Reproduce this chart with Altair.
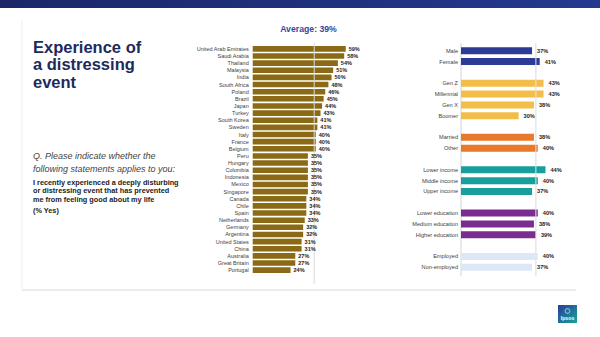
import altair as alt
import pandas as pd

# ---------------- data ----------------
countries = ["United Arab Emirates", "Saudi Arabia", "Thailand", "Malaysia", "India",
             "South Africa", "Poland", "Brazil", "Japan", "Turkey", "South Korea", "Sweden",
             "Italy", "France", "Belgium", "Peru", "Hungary", "Colombia", "Indonesia",
             "Mexico", "Singapore", "Canada", "Chile", "Spain", "Netherlands", "Germany",
             "Argentina", "United States", "China", "Australia", "Great Britain", "Portugal"]
country_values = [59, 58, 54, 51, 50, 48, 46, 45, 44, 43, 41, 41, 40, 40, 40, 35, 35, 35,
                  35, 35, 35, 34, 34, 34, 33, 32, 32, 31, 31, 27, 27, 24]

right_labels = ["Male", "Female", "Gen Z", "Millennial", "Gen X", "Boomer", "Married", "Other",
                "Lower income", "Middle income", "Upper income", "Lower education",
                "Medium education", "Higher education", "Employed", "Non-employed"]
right_values = [37, 41, 43, 43, 38, 30, 38, 40, 44, 40, 37, 40, 38, 39, 40, 37]
right_groups = [0, 0, 1, 1, 1, 1, 2, 2, 3, 3, 3, 4, 4, 4, 5, 5]
group_names = ["Gender", "Generation", "Marital", "Income", "Education", "Employment"]
group_colors = ["#2c3b93", "#f3bd4a", "#e8792a", "#17a09b", "#7b2d8f", "#dce8f8"]

AVERAGE = 39
average_text = "Average: 39%"

title_lines = ["Experience of", "a distressing", "event"]
question_lines = ["Q. Please indicate whether the", "following statements applies to you:"]
statement_lines = ["I recently experienced a deeply disturbing",
                   "or distressing event that has prevented",
                   "me from feeling good about my life"]
yes_text = "(% Yes)"

FONT = "Liberation Sans"

# ---------------- tables ----------------
cdf = pd.DataFrame({
    "country": countries,
    "value": country_values,
    "idx": list(range(len(countries))),
})
cdf["label"] = cdf["value"].astype(str) + "%"

rdf = pd.DataFrame({
    "label": right_labels,
    "value": right_values,
    "group": [group_names[g] for g in right_groups],
    "row": [i + g for i, g in enumerate(right_groups)],
})
rdf["text"] = rdf["value"].astype(str) + "%"
n_rows = int(rdf["row"].max()) + 1

one = alt.Data(values=[{"k": 1}])

# ---------------- scales ----------------
cx = alt.Scale(domain=[0, 100], range=[252.7, 410.4], nice=False, zero=True)
n = len(countries)
step_c = (275 - 44) / (n - 1)
cy = alt.Scale(domain=[-0.5, n - 0.5], range=[44 - step_c / 2, 275 + step_c / 2],
               nice=False, zero=False)
rx = alt.Scale(domain=[0, 100], range=[461, 653], nice=False, zero=True)
step_r = (272 - 46) / (n_rows - 1)
ry = alt.Scale(domain=[-0.5, n_rows - 0.5], range=[46 - step_r / 2, 272 + step_r / 2],
               nice=False, zero=False)

# ---------------- country chart ----------------
cbase = alt.Chart(cdf)
c_bars = cbase.mark_bar(orient="horizontal", size=5.6, color="#8b6a16").encode(
    x=alt.X("value:Q", scale=cx, axis=None),
    y=alt.Y("idx:Q", scale=cy, axis=None),
)
c_avg = alt.Chart(pd.DataFrame({"value": [AVERAGE], "idx": [-0.8], "idx2": [32.9]})).mark_rule(
    color="#d9d9d9", strokeWidth=1).encode(
    x=alt.X("value:Q", scale=cx, axis=None),
    y=alt.Y("idx:Q", scale=cy, axis=None), y2="idx2:Q")
c_names = cbase.mark_text(align="right", baseline="middle", dx=-4, font=FONT,
                          fontSize=5.5, color="#404040").encode(
    x=alt.X("zero:Q", scale=cx, axis=None), y=alt.Y("idx:Q", scale=cy, axis=None),
    text="country:N").transform_calculate(zero="0")
c_vals = cbase.mark_text(align="left", baseline="middle", dx=3, font=FONT,
                         fontSize=5.5, fontWeight="bold", color="#222222").encode(
    x=alt.X("value:Q", scale=cx, axis=None), y=alt.Y("idx:Q", scale=cy, axis=None),
    text="label:N")
country_chart = alt.layer(c_bars, c_avg, c_names, c_vals)

# ---------------- right chart ----------------
rbase = alt.Chart(rdf)
r_lines = alt.Chart(pd.DataFrame({"value": [0, AVERAGE], "row": [-0.7, -0.7],
                                  "row2": [20.8, 20.8],
                                  "shade": ["#d4d4d4", "#e4e4e4"]})).mark_rule(
    strokeWidth=1).encode(
    x=alt.X("value:Q", scale=rx, axis=None),
    y=alt.Y("row:Q", scale=ry, axis=None), y2="row2:Q",
    color=alt.Color("shade:N", scale=None))
r_bars = rbase.mark_bar(orient="horizontal", size=7).encode(
    x=alt.X("value:Q", scale=rx, axis=None),
    y=alt.Y("row:Q", scale=ry, axis=None),
    color=alt.Color("group:N", scale=alt.Scale(domain=group_names, range=group_colors),
                    legend=None),
)
r_avg = alt.Chart(pd.DataFrame({"value": [AVERAGE], "row": [-0.7], "row2": [20.8]})).mark_rule(
    color="#e6e6e6", strokeWidth=1).encode(
    x=alt.X("value:Q", scale=rx, axis=None),
    y=alt.Y("row:Q", scale=ry, axis=None), y2="row2:Q")
r_names = rbase.mark_text(align="right", baseline="middle", dx=-3, font=FONT,
                          fontSize=5.6, color="#404040").encode(
    x=alt.X("zero:Q", scale=rx, axis=None), y=alt.Y("row:Q", scale=ry, axis=None),
    text="label:N").transform_calculate(zero="0")
r_vals = rbase.mark_text(align="left", baseline="middle", dx=5, font=FONT,
                         fontSize=5.6, fontWeight="bold", color="#222222").encode(
    x=alt.X("value:Q", scale=rx, axis=None), y=alt.Y("row:Q", scale=ry, axis=None),
    text="text:N")
right_chart = alt.layer(r_lines, r_bars, r_avg, r_names, r_vals)

data_layers = alt.layer(country_chart, right_chart).resolve_scale(
    x="independent", y="independent", color="independent")

# ---------------- decorations & text ----------------
band_fill = alt.LinearGradient(
    gradient="linear", x1=0, x2=1, y1=0, y2=0,
    stops=[alt.GradientStop(color="#1b2767", offset=0),
           alt.GradientStop(color="#24398f", offset=1)])
top_band = alt.Chart(one).mark_rect(fill=band_fill).encode(
    x=alt.value(0), x2=alt.value(600), y=alt.value(0), y2=alt.value(8))
left_rule = alt.Chart(one).mark_rule(color="#f0f0f0", strokeWidth=1).encode(
    x=alt.value(22), y=alt.value(20), y2=alt.value(290))
bottom_rule = alt.Chart(one).mark_rule(color="#ececec", strokeWidth=2).encode(
    x=alt.value(22), x2=alt.value(576), y=alt.value(290))

title = alt.Chart(one).mark_text(
    text=title_lines, align="left", baseline="alphabetic", font=FONT, fontSize=16.5,
    fontWeight="bold", color="#1d2a5c", lineHeight=17.4).encode(
    x=alt.value(33), y=alt.value(53))
question = alt.Chart(one).mark_text(
    text=question_lines, align="left", baseline="alphabetic", font=FONT, fontSize=9,
    fontStyle="italic", color="#444444", lineHeight=12.6).encode(
    x=alt.value(33), y=alt.value(159.3))
statement = alt.Chart(one).mark_text(
    text=statement_lines, align="left", baseline="alphabetic", font=FONT, fontSize=7.3,
    fontWeight="bold", color="#222222", lineHeight=8.4).encode(
    x=alt.value(33), y=alt.value(184.8))
yes = alt.Chart(one).mark_text(
    text=yes_text, align="left", baseline="alphabetic", font=FONT, fontSize=7.3,
    fontWeight="bold", color="#222222").encode(x=alt.value(33), y=alt.value(213.2))
avg_title = alt.Chart(one).mark_text(
    text=average_text, align="center", baseline="alphabetic", font=FONT, fontSize=8.7,
    fontWeight="bold", color="#34479c").encode(x=alt.value(308.5), y=alt.value(32))

logo_fill = alt.LinearGradient(
    gradient="linear", x1=0, x2=1, y1=0, y2=1,
    stops=[alt.GradientStop(color="#2b3c98", offset=0),
           alt.GradientStop(color="#18a39a", offset=1)])
logo = alt.Chart(one).mark_rect(fill=logo_fill).encode(
    x=alt.value(558), x2=alt.value(577), y=alt.value(305), y2=alt.value(323))
logo_head = alt.Chart(one).mark_point(shape="circle", size=22, filled=False,
                                      color="#9fd4e8", strokeWidth=1.2).encode(
    x=alt.value(567.5), y=alt.value(311))
logo_text = alt.Chart(one).mark_text(
    text="Ipsos", align="center", baseline="alphabetic", font=FONT, fontSize=5.2,
    fontWeight="bold", color="white").encode(x=alt.value(567.5), y=alt.value(320))

chart = alt.layer(
    top_band, left_rule, bottom_rule, title, question, statement, yes, avg_title,
    data_layers, logo, logo_head, logo_text,
).properties(
    width=600, height=337, padding=0,
    autosize=alt.AutoSizeParams(type="none"),
    background="white",
).configure_view(stroke=None)

chart.save("out.html", embed_options={"renderer": "svg", "actions": False})
